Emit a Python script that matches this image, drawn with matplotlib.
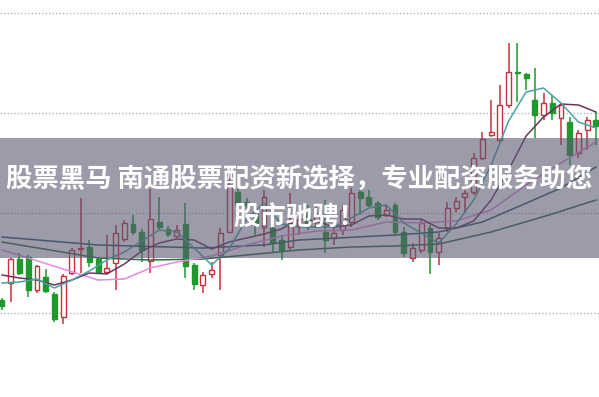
import matplotlib
matplotlib.use('Agg')
import matplotlib.pyplot as plt
from matplotlib.patches import Rectangle
import numpy as np

# candle data (price units), left to right
opens = [9.13, 9.30, 9.54, 9.56, 9.23, 9.36, 9.19, 8.96, 9.40, 9.64,
         9.66, 9.54, 9.41, 9.50, 9.74, 9.89, 9.81, 9.52, 9.91, 9.84,
         9.77, 9.89, 9.48, 9.28, 9.39, 9.58, 9.81, 10.21, 10.11, 9.99,
         9.86, 9.85, 9.73, 9.66, 9.87, 9.98, 9.91, 9.81, 9.75, 9.83,
         9.91, 10.21, 10.16, 10.10, 9.98, 10.08, 9.81, 9.55, 9.63, 9.85,
         9.61, 9.85, 10.05, 10.16, 10.21, 10.55, 10.78, 10.73, 11.08, 11.41,
         11.39, 11.13, 10.98, 11.10, 10.95, 10.91, 10.60, 10.83, 10.93]
closes = [9.07, 9.54, 9.40, 9.23, 9.47, 9.22, 8.94, 9.37, 9.63, 9.65,
          9.51, 9.41, 9.45, 9.80, 9.90, 9.81, 9.63, 9.94, 9.86, 9.79,
          9.83, 9.47, 9.29, 9.38, 9.43, 9.80, 10.28, 10.09, 10.08, 9.89,
          10.16, 9.70, 9.63, 9.90, 9.93, 9.88, 9.98, 9.73, 9.80, 10.03,
          10.20, 10.15, 10.08, 9.96, 10.03, 9.81, 9.60, 9.65, 9.90, 9.61,
          9.75, 10.05, 10.12, 10.20, 10.55, 10.74, 10.81, 11.08, 11.41, 11.40,
          11.35, 10.98, 11.10, 11.00, 11.08, 10.58, 10.80, 10.93, 10.87]
highs = [9.15, 9.55, 9.60, 9.58, 9.48, 9.44, 9.21, 9.39, 9.65, 10.15,
         9.73, 9.56, 9.78, 9.88, 9.93, 9.98, 9.84, 10.24, 10.16, 9.87,
         9.88, 10.10, 9.50, 9.41, 9.51, 9.85, 10.46, 10.24, 10.15, 10.03,
         10.23, 10.03, 9.78, 10.20, 10.03, 10.08, 10.08, 10.13, 9.88, 10.08,
         10.25, 10.25, 10.23, 10.12, 10.08, 10.10, 9.86, 9.70, 9.93, 9.88,
         9.80, 10.11, 10.16, 10.23, 10.60, 10.81, 11.13, 11.28, 11.70, 11.70,
         11.40, 11.45, 11.20, 11.18, 11.10, 10.96, 10.83, 10.96, 11.01]
lows = [9.03, 9.11, 9.38, 9.16, 9.20, 9.20, 8.91, 8.89, 9.38, 9.40,
        9.46, 9.39, 9.39, 9.23, 9.71, 9.78, 9.51, 9.40, 9.83, 9.76,
        9.75, 9.35, 9.23, 9.20, 9.35, 9.23, 9.80, 10.06, 10.04, 9.78,
        9.66, 9.60, 9.53, 9.63, 9.78, 9.83, 9.85, 9.60, 9.68, 9.78,
        9.86, 9.98, 10.06, 9.93, 9.96, 9.78, 9.56, 9.51, 9.60, 9.39,
        9.48, 9.81, 10.01, 10.00, 10.18, 10.53, 10.76, 10.71, 11.05, 11.11,
        11.23, 10.75, 10.93, 10.93, 10.68, 10.48, 10.55, 10.63, 10.68]

# moving average lines (candle index, price)
ma5_idx = [0, 2, 4, 6, 8, 10, 12, 14, 16, 18, 20, 22, 24, 26, 28, 30, 32, 34,
           36, 38, 40, 42, 44, 46, 48, 50, 52, 54, 56, 58, 60, 62, 64, 66, 68]
ma5_val = [9.30, 9.31, 9.34, 9.25, 9.33, 9.42, 9.53, 9.61, 9.72, 9.83, 9.81, 9.65,
           9.48, 9.64, 9.94, 10.10, 9.89, 9.86, 9.86, 9.86, 9.95, 10.05, 10.08, 9.90,
           9.80, 9.70, 9.89, 10.13, 10.48, 10.92, 11.21, 11.25, 11.10, 10.91, 10.85]
ma10_idx = ma5_idx
ma10_val = [9.38, 9.35, 9.33, 9.28, 9.33, 9.40, 9.39, 9.49, 9.62, 9.70, 9.74, 9.73,
            9.64, 9.71, 9.75, 9.79, 9.84, 9.94, 9.92, 9.86, 9.88, 9.97, 9.98, 9.94,
            9.94, 9.85, 9.85, 9.92, 10.13, 10.43, 10.77, 10.96, 11.09, 11.08, 11.01]
ma20_idx = [0, 3, 7, 11, 14, 17, 20, 24, 28, 32, 36, 40, 44, 48, 52, 56, 60, 64, 68]
ma20_val = [9.63, 9.55, 9.44, 9.33, 9.34, 9.45, 9.51, 9.57, 9.68, 9.77, 9.82, 9.83,
            9.91, 9.90, 9.92, 10.03, 10.28, 10.50, 10.71]
ma30_idx = [0, 11, 23, 30, 34, 45, 50, 55, 59, 64, 68]
ma30_val = [9.76, 9.68, 9.65, 9.68, 9.73, 9.78, 9.81, 9.91, 10.06, 10.25, 10.46]
ma60_idx = [0, 11, 17, 23, 28, 34, 40, 45, 50, 56, 63, 68]
ma60_val = [9.71, 9.55, 9.53, 9.54, 9.58, 9.63, 9.66, 9.67, 9.69, 9.81, 9.99, 10.13]

grid_levels = [9.0, 10.0, 11.0, 12.0]
line1 = '股票黑马 南通股票配资新选择，专业配资服务助您'
line2 = '股市驰骋！'

RED = '#c8303e'
GREEN = '#1e9a2c'

fig = plt.figure(figsize=(5.99, 3.97), dpi=100)
ax = fig.add_axes([0, 0, 1, 1])
ax.set_xlim(-0.23, 68.35)
ax.set_ylim(8.16, 12.13)
ax.axis('off')

for g in grid_levels:
    ax.axhline(g, color='#b4b4b4', lw=1, ls=(0, (1, 1.5)), zorder=1)

w = 0.56
for i in range(len(opens)):
    o, c, h, l = opens[i], closes[i], highs[i], lows[i]
    up = c >= o
    col = RED if up else GREEN
    ax.vlines(i, l, h, color=col, lw=1.1, zorder=2)
    lo, hi = min(o, c), max(o, c)
    ax.add_patch(Rectangle((i - w / 2, lo), w, max(hi - lo, 0.012),
                           facecolor='white' if up else col,
                           edgecolor=col, lw=1.0, zorder=3))

ax.plot(ma60_idx, ma60_val, color='#2f6a48', lw=1.1, zorder=4)
ax.plot(ma30_idx, ma30_val, color='#2d5866', lw=1.1, zorder=4)
ax.plot(ma20_idx, ma20_val, color='#e48ae0', lw=1.1, zorder=4)
ax.plot(ma10_idx, ma10_val, color='#6e3460', lw=1.1, zorder=4)
ax.plot(ma5_idx, ma5_val, color='#4aa3a3', lw=1.1, zorder=4)

# grey banner over the chart
ax.axhspan(9.55, 10.75, color='#5a5870', alpha=0.6, lw=0, zorder=5)

fig.text(0.5, 1 - 180 / 397, line1, color='white', fontsize=19,
         fontweight='bold', family=['Noto Sans CJK SC', 'DejaVu Sans'],
         ha='center', va='center', zorder=6)
fig.text(0.5, 1 - 218 / 397, line2, color='white', fontsize=19,
         fontweight='bold', family=['Noto Sans CJK SC', 'DejaVu Sans'],
         ha='center', va='center', zorder=6)

fig.savefig('out.png', dpi=100)
